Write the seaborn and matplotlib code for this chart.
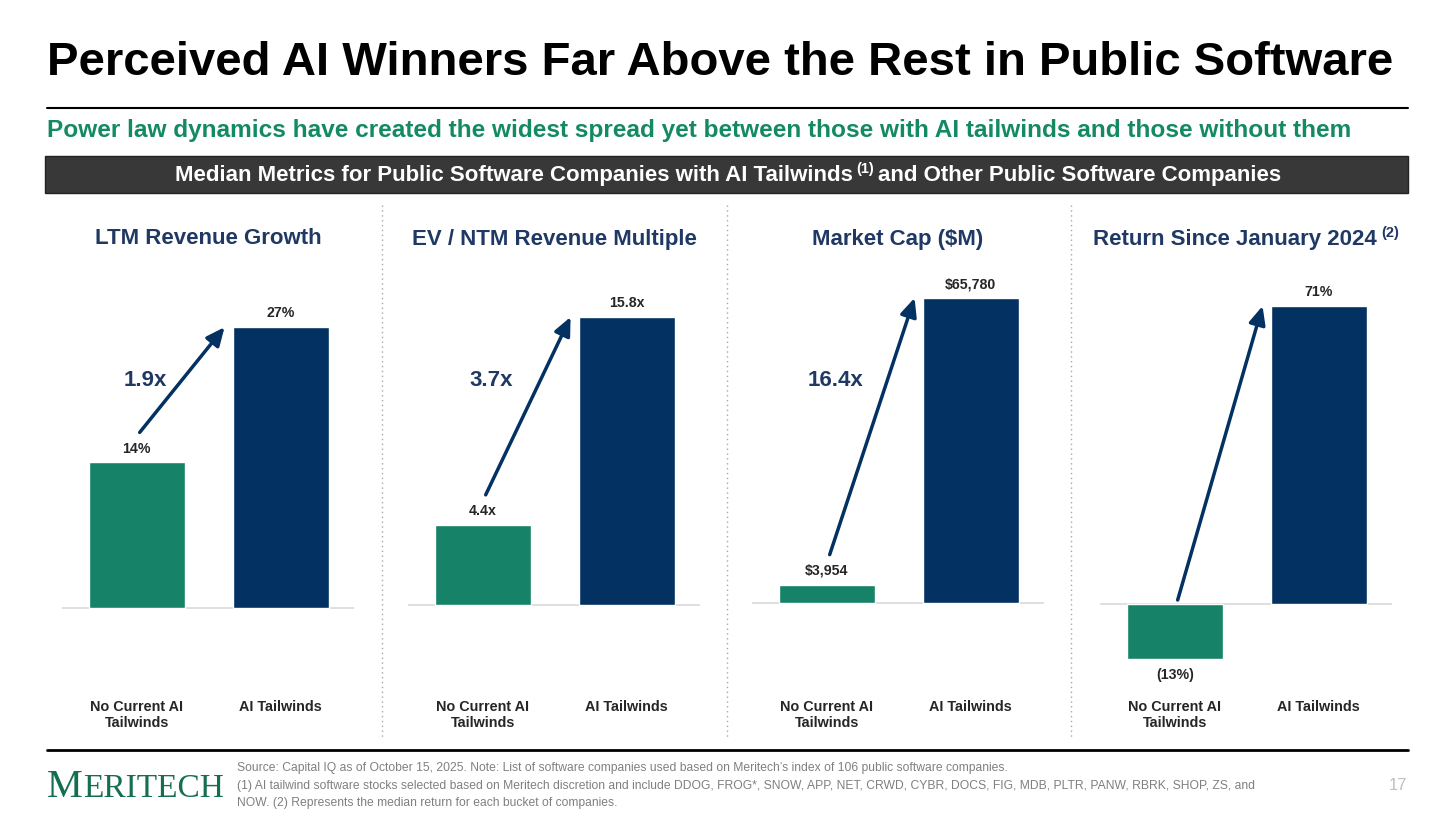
import numpy as np
import pandas as pd
import matplotlib.pyplot as plt
import matplotlib.transforms as mtransforms
from matplotlib.patches import Rectangle
from matplotlib.lines import Line2D
import seaborn as sns

sns.set_theme(style="white")
plt.rcParams["font.family"] = ["Liberation Sans", "DejaVu Sans"]

# data
categories = ["No Current AI\nTailwinds", "AI Tailwinds"]
panel_titles = ["LTM Revenue Growth", "EV / NTM Revenue Multiple",
                "Market Cap ($M)", "Return Since January 2024"]
panel_notes = ["", "", "", "(2)"]
revenue_growth = [14, 27]
ev_ntm_multiple = [4.4, 15.8]
market_cap = [3954, 65780]
return_since_2024 = [-13, 71]
value_labels = [["14%", "27%"], ["4.4x", "15.8x"], ["$3,954", "$65,780"], ["(13%)", "71%"]]
multipliers = ["1.9x", "3.7x", "16.4x", ""]
series = [revenue_growth, ev_ntm_multiple, market_cap, return_since_2024]

footnotes = [
    "Source: Capital IQ as of October 15, 2025. Note: List of software companies used based on Meritech\u2019s index of 106 public software companies.",
    "(1) AI tailwind software stocks selected based on Meritech discretion and include DDOG, FROG*, SNOW, APP, NET, CRWD, CYBR, DOCS, FIG, MDB, PLTR, PANW, RBRK, SHOP, ZS, and",
    "NOW. (2) Represents the median return for each bucket of companies.",
]

GREEN = "#168369"
NAVY = "#033162"
HEAD_NAVY = "#1F3864"
TEXT = "#262626"

W, H = 1456, 819
fig = plt.figure(figsize=(W / 100, H / 100), dpi=100)
bg = fig.add_axes([0, 0, 1, 1], zorder=0)
bg.set_xlim(0, W)
bg.set_ylim(H, 0)
bg.axis("off")
renderer = fig.canvas.get_renderer()


def rich_text(xc, y, pieces, **kw):
    # pieces: (text, fontsize, dy in px, gap after in px)
    items, x = [], 0
    for s, size, dy, gap in pieces:
        t = bg.text(x, y + dy, s, fontsize=size, ha="left", va="center", **kw)
        items.append(t)
        x += t.get_window_extent(renderer).width + gap
    total = x - pieces[-1][3]
    shift = xc - total / 2
    for t in items:
        px, py = t.get_position()
        t.set_position((px + shift, py))


# header
bg.text(47, 63, "Perceived AI Winners Far Above the Rest in Public Software",
        fontsize=34, fontweight="bold", color="black", va="center")
bg.add_line(Line2D([47, 1408], [108, 108], color="black", lw=1.5))
bg.text(47, 130, "Power law dynamics have created the widest spread yet between those with AI tailwinds and those without them",
        fontsize=17.6, fontweight="bold", color="#138A63", va="center")
bg.add_patch(Rectangle((45, 156), 1363, 37, facecolor="#383838", edgecolor="#222222", lw=1))
rich_text(728, 175, [("Median Metrics for Public Software Companies with AI Tailwinds", 16, 0, 4),
                     ("(1)", 10.5, -6, 4),
                     ("and Other Public Software Companies", 16, 0, 0)],
          color="white", fontweight="bold")

# separators
for xs in [382, 727, 1071]:
    bg.add_line(Line2D([xs, xs], [205, 737], color="#A6A6A6", lw=1, linestyle=(0, (1, 2.5))))

# panels
panel_left = [62, 408, 752, 1100]
panel_w = 292
ax_top, ax_bot = 270, 690
ylims = [(-7.88, 32.5), (-4.66, 18.38), (-18762, 71814), (-20.49, 79.58)]

for i, vals in enumerate(series):
    ax = fig.add_axes([panel_left[i] / W, 1 - ax_bot / H, panel_w / W, (ax_bot - ax_top) / H], zorder=1)
    ax.patch.set_alpha(0)
    df = pd.DataFrame({"group": categories, "value": vals})
    sns.barplot(data=df, x="group", y="value", hue="group", palette=[GREEN, NAVY],
                width=0.667, saturation=1, legend=False, ax=ax, zorder=2)
    ax.set_xlim(-0.52, 1.51)
    ax.set_ylim(ylims[i])
    ax.axhline(0, color="#D9D9D9", lw=1.2, zorder=1)
    ax.set_xlabel("")
    ax.set_ylabel("")
    ax.set_yticks([])
    ax.tick_params(axis="x", length=0, pad=7)
    for lab in ax.get_xticklabels():
        lab.set_fontweight("bold")
        lab.set_fontsize(10.4)
        lab.set_color(TEXT)
        lab.set_verticalalignment("top")
    sns.despine(ax=ax, left=True, bottom=True)

    for j, (v, s) in enumerate(zip(vals, value_labels[i])):
        off = 10 if v >= 0 else -12
        ax.annotate(s, xy=(j, v), xytext=(0, off), textcoords="offset points",
                    ha="center", va="center", fontsize=10.2, fontweight="bold", color=TEXT)

    start_off = 30 if vals[0] > 0 else 4
    start_tr = mtransforms.offset_copy(ax.transData, fig=fig, x=0, y=start_off, units="dots")
    ax.annotate("", xy=(0.61, vals[1]), xytext=(0.02, max(vals[0], 0)), textcoords=start_tr,
                arrowprops=dict(arrowstyle="-|>,head_length=0.55,head_width=0.25", color=NAVY,
                                lw=2.5, mutation_scale=20, shrinkA=0, shrinkB=0),
                annotation_clip=False)

    if multipliers[i]:
        tr = mtransforms.blended_transform_factory(ax.transData, bg.transData)
        ax.text(0.06, 381, multipliers[i], transform=tr, ha="center", va="center",
                fontsize=16, fontweight="bold", color=HEAD_NAVY)

    xc = panel_left[i] + panel_w / 2
    pieces = [(panel_titles[i], 16, 0, 4)]
    if panel_notes[i]:
        pieces.append((panel_notes[i], 10.5, -6, 0))
    rich_text(xc, 239, pieces, color=HEAD_NAVY, fontweight="bold")

# footer
bg.add_line(Line2D([47, 1408], [750, 750], color="black", lw=2))
m = bg.text(47, 797, "M", fontfamily="Liberation Serif", fontsize=29, color="#136F50", va="baseline")
mw = m.get_window_extent(renderer).width
bg.text(47 + mw, 797, "ERITECH", fontfamily="Liberation Serif", fontsize=24, color="#136F50", va="baseline")
for k, line in enumerate(footnotes):
    bg.text(237, 768 + 17.5 * k, line, fontsize=8.7, color="#808080", va="center")
bg.text(1398, 786, "17", fontsize=12, color="#BFBFBF", ha="center", va="center")

fig.savefig("out.png", dpi=100)
